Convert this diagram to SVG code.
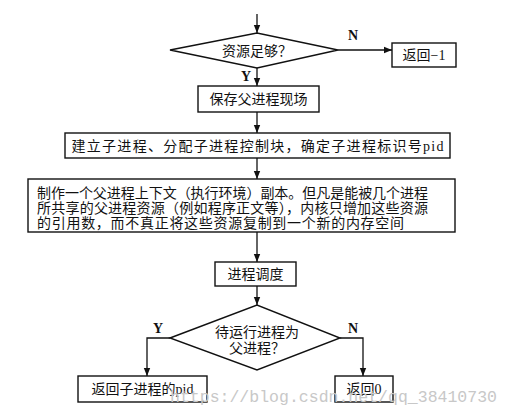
<svg xmlns="http://www.w3.org/2000/svg" width="510" height="416" viewBox="0 0 510 416">
<defs>
<marker id="ah" viewBox="0 0 10 10" refX="10" refY="5" markerWidth="8" markerHeight="8" markerUnits="userSpaceOnUse" orient="auto">
<path d="M0,1 L10,5 L0,9 z" fill="#111"/>
</marker>
</defs>
<style>
.box{fill:#fff;stroke:#111;stroke-width:1.4}
.ln{fill:none;stroke:#111;stroke-width:1.3}
.t{font-family:"Liberation Serif","Noto Sans CJK SC",serif;font-size:14px;fill:#111}
.c{text-anchor:middle}
.lb{font-family:"Liberation Serif",serif;font-size:14px;fill:#111;font-weight:bold}
.wm{font-family:"Liberation Mono",monospace;font-size:16.5px;fill:#c8c8c8}
</style>
<rect width="510" height="416" fill="#fff"/>
<g id="connectors">
<line class="ln" x1="257" y1="14" x2="257" y2="33" marker-end="url(#ah)"/>
<line class="ln" x1="338" y1="50" x2="392" y2="50" marker-end="url(#ah)"/>
<line class="ln" x1="257" y1="68" x2="257" y2="86" marker-end="url(#ah)"/>
<line class="ln" x1="257" y1="112" x2="257" y2="133" marker-end="url(#ah)"/>
<line class="ln" x1="257" y1="158" x2="257" y2="179" marker-end="url(#ah)"/>
<line class="ln" x1="257" y1="232" x2="257" y2="262" marker-end="url(#ah)"/>
<line class="ln" x1="257" y1="286" x2="257" y2="305" marker-end="url(#ah)"/>
<polyline class="ln" points="170,338 147,338 147,376" marker-end="url(#ah)"/>
<polyline class="ln" points="340,338 363,338 363,376" marker-end="url(#ah)"/>
<text class="lb" x="353" y="40" text-anchor="middle">N</text>
<text class="lb" x="246" y="81" text-anchor="middle">Y</text>
<text class="lb" x="158" y="333" text-anchor="middle">Y</text>
<text class="lb" x="353" y="333" text-anchor="middle">N</text>
</g>
<g id="d1">
<polygon class="box" points="170,50 257,33 338,50 257,68"/>
<text class="t c" x="257" y="56">资源足够？</text>
</g>
<g id="ret-1">
<rect class="box" x="392" y="43" width="64" height="24"/>
<text class="t c" x="424" y="60">返回−1</text>
</g>
<g id="save">
<rect class="box" x="198" y="86" width="121" height="26"/>
<text class="t c" x="258.5" y="104">保存父进程现场</text>
</g>
<g id="create">
<rect class="box" x="65" y="133" width="385" height="25"/>
<text class="t c" x="257.5" y="151" textLength="372" lengthAdjust="spacing">建立子进程、分配子进程控制块，确定子进程标识号pid</text>
</g>
<g id="copy">
<rect class="box" x="28" y="179" width="427" height="53"/>
<text class="t" x="37" y="198" textLength="391" lengthAdjust="spacing">制作一个父进程上下文（执行环境）副本。但凡是能被几个进程</text>
<text class="t" x="37" y="213" textLength="391" lengthAdjust="spacing">所共享的父进程资源（例如程序正文等），内核只增加这些资源</text>
<text class="t" x="37" y="228" textLength="367" lengthAdjust="spacing">的引用数，而不真正将这些资源复制到一个新的内存空间</text>
</g>
<g id="sched">
<rect class="box" x="215" y="262" width="81" height="24"/>
<text class="t c" x="255.5" y="279">进程调度</text>
</g>
<g id="d2">
<polygon class="box" points="170,338 257,305 340,338 257,370"/>
<text class="t c" x="257" y="337">待运行进程为</text>
<text class="t c" x="257" y="353">父进程？</text>
</g>
<g id="retpid">
<rect class="box" x="78" y="376" width="129" height="26"/>
<text class="t c" x="142.5" y="394">返回子进程的pid</text>
</g>
<g id="ret0">
<rect class="box" x="335" y="376" width="58" height="26"/>
<text class="t c" x="364" y="394">返回0</text>
</g>
<text class="wm" x="170" y="402" textLength="327" lengthAdjust="spacing">https://blog.csdn.net/qq_38410730</text>
</svg>
